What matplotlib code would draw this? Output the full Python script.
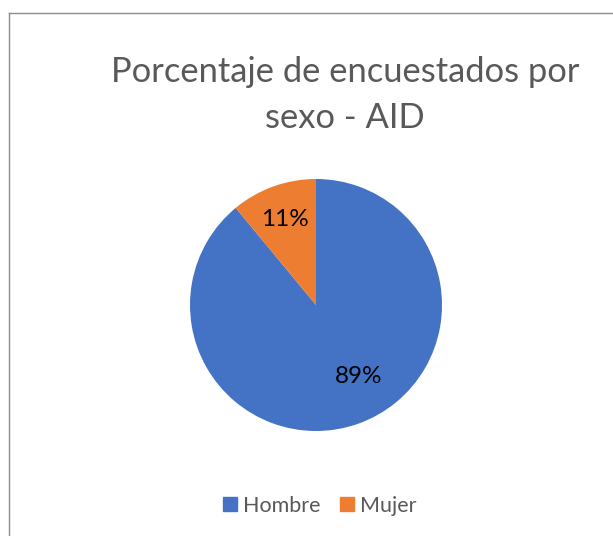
import matplotlib
matplotlib.use('Agg')
import matplotlib.pyplot as plt
from matplotlib.lines import Line2D

# datos
categorias = ['Hombre', 'Mujer']
porcentajes = [89, 11]
colores = ['#4472C4', '#ED7D31']
titulo = 'Porcentaje de encuestados por\nsexo - AID'

W, H = 613, 536
fig = plt.figure(figsize=(W / 100, H / 100), dpi=100)
plt.rcParams['font.family'] = ['Lato', 'DejaVu Sans']

# marco del grafico (se sale por la derecha y por abajo)
fig.add_artist(Line2D([9 / W, 9 / W], [0, 1 - 12.5 / H], color='#8c8c8c', lw=1.0))
fig.add_artist(Line2D([9 / W, 1], [1 - 12.5 / H, 1 - 12.5 / H], color='#8c8c8c', lw=1.0))

# titulo
fig.text(345 / W, 1 - 95 / H, titulo, ha='center', va='center', fontsize=24.8,
         color='#595959', linespacing=1.5)

# tarta
ax = fig.add_axes([190 / W, (H - 431) / H, 252 / W, 252 / H])
wedges, texts, autotexts = ax.pie(porcentajes, colors=colores, startangle=90,
                                  counterclock=False, autopct='%1.0f%%',
                                  pctdistance=0.72, radius=1.0,
                                  textprops={'fontsize': 17.5, 'color': 'black'})
ax.set_xlim(-1, 1)
ax.set_ylim(-1, 1)
ax.set_aspect('equal')
ax.axis('off')
# Excel coloca la etiqueta grande un poco mas a la derecha
autotexts[0].set_position((0.34, -0.57))

# leyenda
handles = [Line2D([], [], marker='s', ls='', markersize=9.5, color=c) for c in colores]
fig.legend(handles, categorias, loc='center', bbox_to_anchor=(320 / W, 1 - 506 / H),
           ncol=2, frameon=False, fontsize=15.5, labelcolor='#595959',
           handlelength=0.6, handletextpad=0.3, columnspacing=0.9)

fig.savefig('out.png', dpi=100)
